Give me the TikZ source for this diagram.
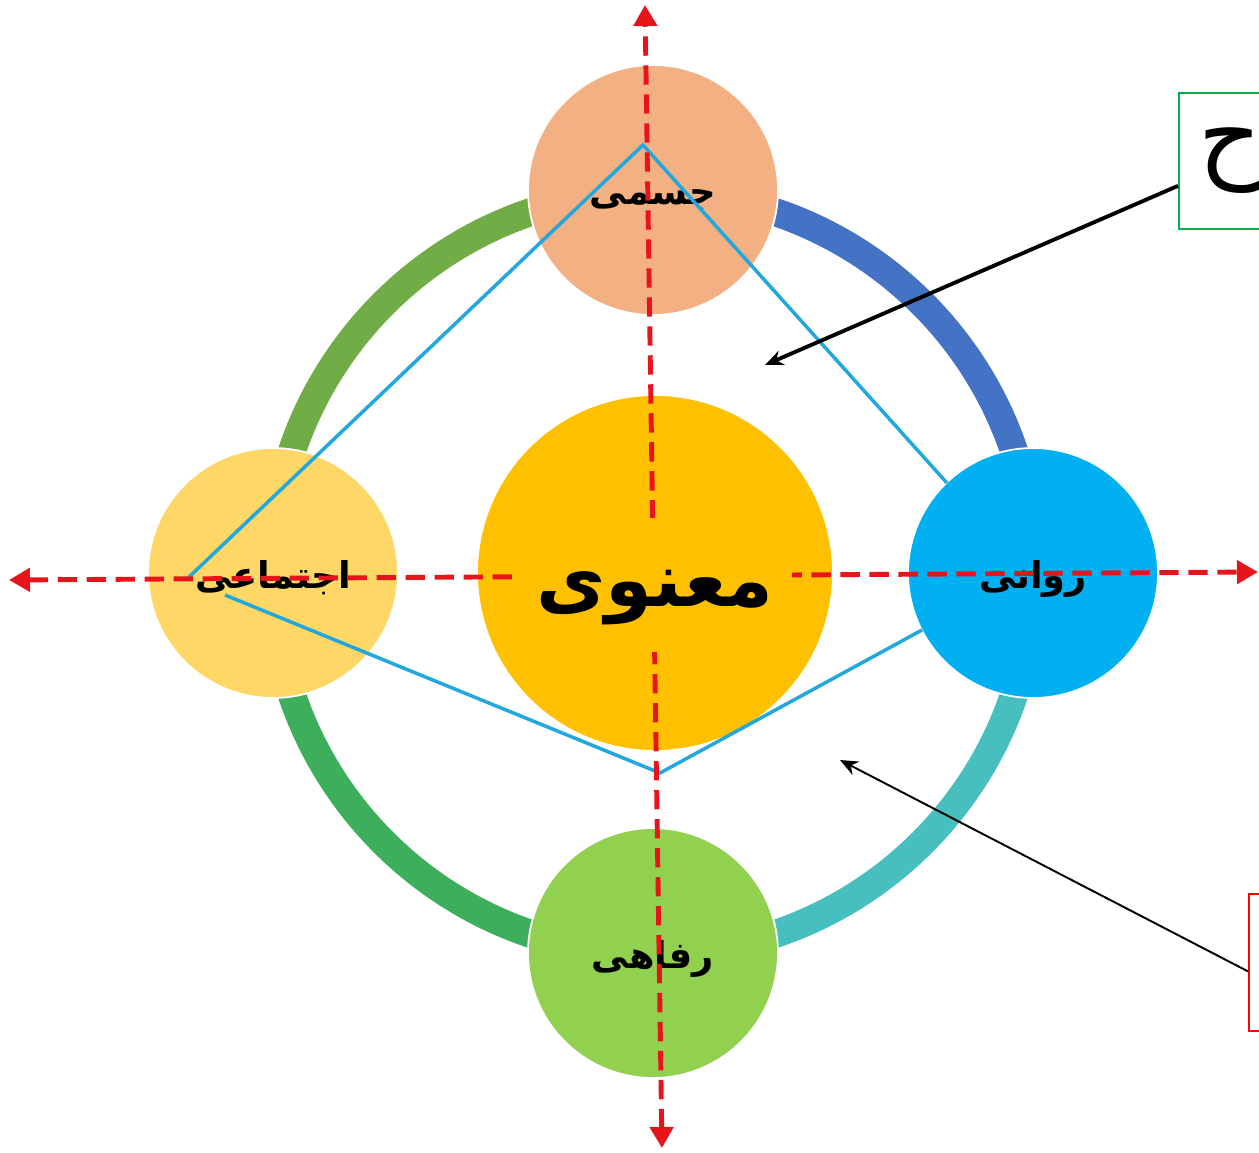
\documentclass[tikz,border=0pt]{standalone}
\usepackage{fontspec}
\newfontfamily\arabicfont[Script=Arabic]{DejaVu Sans}
\TeXXeTstate=1
\usetikzlibrary{arrows.meta}
\usetikzlibrary{positioning}
\definecolor{bodysalmon}{HTML}{F3B083}
\definecolor{mindblue}{HTML}{00B0F0}
\definecolor{welfaregreen}{HTML}{92D050}
\definecolor{socialyellow}{HTML}{FFD766}
\definecolor{spiritorange}{HTML}{FFC000}
\definecolor{ringA}{HTML}{70AD47}
\definecolor{ringB}{HTML}{4472C4}
\definecolor{ringC}{HTML}{48BFBF}
\definecolor{ringD}{HTML}{3DAF5C}
\definecolor{edgeblue}{HTML}{22A7DE}
\definecolor{axisred}{HTML}{E8141C}
\definecolor{boxgreen}{HTML}{00B050}
\newcommand{\aspecttext}[1]{\raisebox{-0.3cm}[0pt][0pt]{\beginR #1\endR}}

\begin{document}
\begin{tikzpicture}[x=0.02cm,y=-0.02cm,
    aspect node/.style={circle,draw=white,line width=1pt,minimum size=5cm,inner sep=0pt,font=\arabicfont\bfseries\fontsize{21}{26}\selectfont},
    ring/.style={line width=0.56cm},
    edge/.style={edgeblue,line width=2pt},
    axis/.style={axisred,line width=2.8pt,dash pattern=on 11pt off 5.5pt,{Triangle[length=0.42cm,width=0.46cm]}-{Triangle[length=0.42cm,width=0.46cm]}},
    pointer/.style={black,-{Stealth[length=0.36cm,width=0.3cm]}}]
  \useasboundingbox (0,0) rectangle (1259,1153);
  \clip (0,0) rectangle (1259,1153);

  % ring behind the circles
  \draw[ring,ringA] (653,192) arc[start angle=90,end angle=180,radius=7.62cm];
  \draw[ring,ringB] (1034,573) arc[start angle=0,end angle=90,radius=7.62cm];
  \draw[ring,ringC] (653,954) arc[start angle=270,end angle=360,radius=7.62cm];
  \draw[ring,ringD] (272,573) arc[start angle=180,end angle=270,radius=7.62cm];

  \node[aspect node,fill=bodysalmon] (body) at (653,190) {\aspecttext{جسمی}};
  \node[aspect node,fill=socialyellow] (social) at (273,573) {\aspecttext{اجتماعی}};
  \node[aspect node,fill=mindblue] (mind) at (1033,573) {\aspecttext{روانی}};
  \node[aspect node,fill=welfaregreen] (welfare) at (653,953) {\aspecttext{رفاهی}};
  \node[circle,draw=white,line width=1pt,fill=spiritorange,minimum size=7.12cm] (spirit) at (655,573) {};

  % blue polygon
  \coordinate (apextop) at (643,145);
  \coordinate (apexright) at (947,483);
  \coordinate (apexleft) at (188,578);
  \coordinate (lowleft) at (225,595);
  \coordinate (apexlow) at (660,773);
  \coordinate (lowright) at (922,630);
  \draw[edge] (apexleft) -- (apextop) -- (apexright);
  \draw[edge] (lowleft) -- (apexlow) -- (lowright);

  % axes
  \coordinate (vtop) at (645,5);
  \coordinate (vbot) at (662,1148);
  \coordinate (hleft) at (9,580);
  \coordinate (hright) at (1258,572);
  \draw[axis] (vbot) -- (vtop);
  \draw[axis] (hleft) -- (hright);

  \node[fill=spiritorange,inner sep=0pt,minimum width=5.5cm,minimum height=2.7cm,font=\arabicfont\bfseries\fontsize{43}{50}\selectfont] (spiritlabel) at (655,585) {\raisebox{-0.42cm}[0pt][0pt]{\beginR معنوی\endR}};

  % side boxes
  \node[draw=boxgreen,line width=1pt,anchor=north west,minimum height=2.72cm,text width=2.6cm,inner xsep=0.4cm,font=\arabicfont\fontsize{56}{60}\selectfont] (sidebox) at (1178,92) {ح};
  \node[draw=red,line width=1pt,anchor=north west,minimum height=2.74cm,minimum width=2cm] (notebox) at (1248,893) {};

  \coordinate (upperzone) at (765,365);
  \coordinate (lowerzone) at (840,760);
  \draw[pointer,line width=2.2pt] ([yshift=-0.5cm]sidebox.west) -- (upperzone);
  \draw[pointer,line width=1.1pt] ([yshift=-0.18cm]notebox.west) -- (lowerzone);
\end{tikzpicture}
\end{document}
